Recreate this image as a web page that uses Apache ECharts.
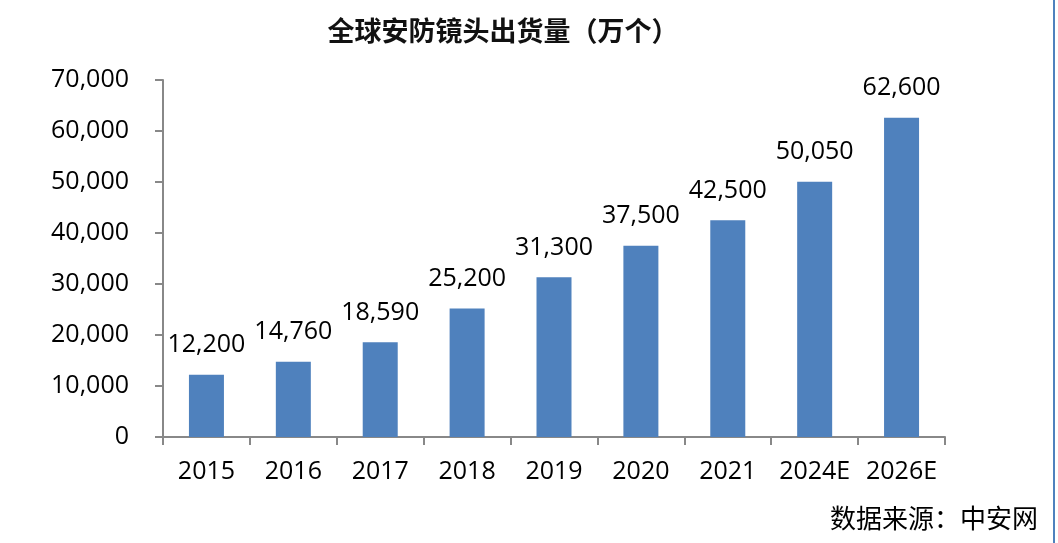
<!DOCTYPE html>
<html>
<head>
<meta charset="utf-8">
<script src="https://cdn.jsdelivr.net/npm/echarts@6/dist/echarts.min.js"></script>
<style>
html,body{margin:0;padding:0;background:#fff;}
#chart{width:1058px;height:543px;}
</style>
</head>
<body>
<div id="chart"></div>
<script>
const categories = ['2015','2016','2017','2018','2019','2020','2021','2024E','2026E'];
const shipments = [12200, 14760, 18590, 25200, 31300, 37500, 42500, 50050, 62600];
const yTicks = [0, 10000, 20000, 30000, 40000, 50000, 60000, 70000];
const titleText = '全球安防镜头出货量（万个）';
const sourceText = '数据来源：中安网';

const numFont = '"Open Sans", "Noto Sans", sans-serif';
const cjkFont = '"Noto Sans CJK SC", sans-serif';
const fmt = v => Number(v).toLocaleString('en-US');

const chart = echarts.init(document.getElementById('chart'));
chart.setOption({
  animation: false,
  backgroundColor: '#ffffff',
  title: {
    text: titleText,
    left: 498,
    top: 12,
    textAlign: 'center',
    textStyle: { fontFamily: cjkFont, fontSize: 27, fontWeight: 'bold', color: '#111' }
  },
  grid: { left: 163, right: 113, top: 80, bottom: 106, containLabel: false },
  xAxis: {
    type: 'category',
    data: categories,
    axisLine: { lineStyle: { color: '#888888', width: 2 } },
    axisTick: { show: true, alignWithLabel: false, interval: 0, length: 8, lineStyle: { color: '#888888', width: 2 } },
    axisLabel: { interval: 0, fontFamily: numFont, fontSize: 25, color: '#000', margin: 22 }
  },
  yAxis: {
    type: 'value',
    min: yTicks[0],
    max: yTicks[yTicks.length - 1],
    interval: yTicks[1] - yTicks[0],
    splitLine: { show: false },
    axisLine: { show: true, lineStyle: { color: '#888888', width: 2 } },
    axisTick: { show: true, length: 8, lineStyle: { color: '#888888', width: 2 } },
    axisLabel: { fontFamily: numFont, fontSize: 25, color: '#000', margin: 34, formatter: fmt }
  },
  series: [{
    type: 'bar',
    data: shipments,
    barWidth: 35,
    itemStyle: { color: '#4F81BD' },
    label: {
      show: true,
      position: 'top',
      distance: 17,
      fontFamily: numFont,
      fontSize: 25,
      color: '#000',
      formatter: p => fmt(p.value)
    }
  }],
  graphic: [
    {
      type: 'text',
      right: 20,
      top: 505,
      style: { text: sourceText, font: '26px "Noto Sans CJK SC", sans-serif', fill: '#000' }
    },
    {
      type: 'rect',
      shape: { x: 1053, y: 0, width: 2, height: 543 },
      style: { fill: '#4F81BD' }
    }
  ]
});
</script>
</body>
</html>
